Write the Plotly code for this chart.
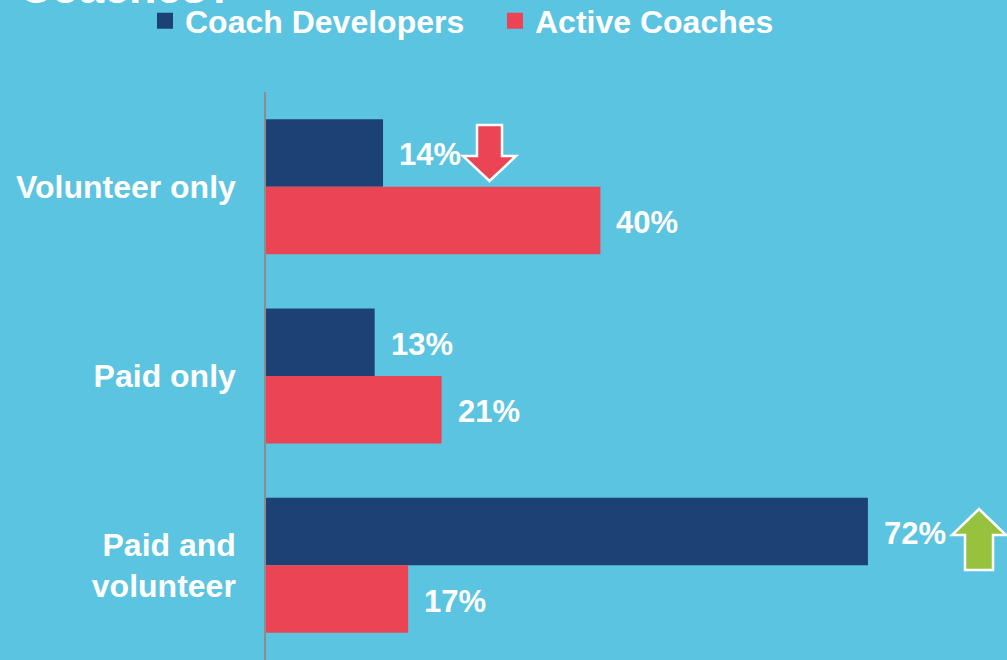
import plotly.graph_objects as go

# ---- data ----
categories = ["Volunteer only", "Paid only", "Paid and<br>volunteer"]
series_names = ["Coach Developers", "Active Coaches"]
coach_developers = [14, 13, 72]
active_coaches = [40, 21, 17]

# ---- style ----
BG = "#5BC4E1"
NAVY = "#1B4273"
RED = "#EA4455"
GREEN = "#97C23D"
FONT = "Liberation Sans, Arial, sans-serif"
W, H = 1007, 660
ML, MT = 266, 92
PW, PH = W - ML, H - MT

def px(x):
    return (x - ML) / PW

def py(y):
    return (H - y) / PH

fig = go.Figure()
for name, vals, col in [(series_names[0], coach_developers, NAVY),
                        (series_names[1], active_coaches, RED)]:
    fig.add_trace(go.Bar(
        y=categories, x=vals, name=name, orientation="h",
        marker=dict(color=col, line=dict(width=0)),
        showlegend=False, hoverinfo="skip"))
    fig.add_trace(go.Scatter(
        x=[None], y=[None], name=name, mode="markers",
        marker=dict(symbol="square", size=17, color=col), showlegend=True))

# value labels
annotations = []
for ti, vals in enumerate([coach_developers, active_coaches]):
    for ci, v in enumerate(vals):
        annotations.append(dict(
            x=v, y=ci + (-0.178 if ti == 0 else 0.178), xref="x", yref="y",
            text=f"{v}%", showarrow=False, xanchor="left", yanchor="middle",
            xshift=14, yshift=-2,
            font=dict(family=FONT, size=31, color="white", weight="bold")))

# truncated title
annotations.append(dict(
    x=px(236), y=py(15), xref="paper", yref="paper", text="Coaches?",
    showarrow=False, xanchor="right", yanchor="bottom",
    font=dict(family=FONT, size=45, color="white", weight="bold")))

def path(points):
    return "M " + " L ".join(f"{px(a):.5f},{py(b):.5f}" for a, b in points) + " Z"

red_arrow = [(477, 125), (502, 125), (502, 156), (516, 156), (489.5, 181),
             (463, 156), (477, 156)]
green_arrow = [(965, 570), (993, 570), (993, 535), (1006, 535), (979, 509),
               (952, 535), (965, 535)]
shapes = [
    dict(type="path", xref="paper", yref="paper", path=path(red_arrow),
         fillcolor=RED, line=dict(color="white", width=2.5)),
    dict(type="path", xref="paper", yref="paper", path=path(green_arrow),
         fillcolor=GREEN, line=dict(color="white", width=2.5)),
]

fig.update_layout(
    width=W, height=H,
    paper_bgcolor=BG, plot_bgcolor=BG,
    margin=dict(l=ML, r=0, t=MT, b=0, pad=0),
    barmode="group", bargap=0.287, bargroupgap=0,
    font=dict(family=FONT, color="white"),
    xaxis=dict(range=[0, PW / 8.36], visible=False, fixedrange=True),
    yaxis=dict(range=[2.5, -0.5], showline=True, linecolor="#8C8C8C",
               linewidth=1.5, showgrid=False, zeroline=False, ticks="",
               ticklabelstandoff=22, fixedrange=True,
               tickfont=dict(family=FONT, size=32, color="white", weight="bold")),
    legend=dict(orientation="h", xref="container", yref="container",
                x=145 / W, y=1 - 21 / H, xanchor="left", yanchor="middle",
                entrywidth=305, itemsizing="trace",
                bgcolor="rgba(0,0,0,0)",
                font=dict(family=FONT, size=32, color="white", weight="bold")),
    annotations=annotations, shapes=shapes,
)

fig.write_html("out.html",
               config={"displayModeBar": False},
               post_script="document.body.style.margin='0';"
                           "document.body.style.overflow='hidden';")
